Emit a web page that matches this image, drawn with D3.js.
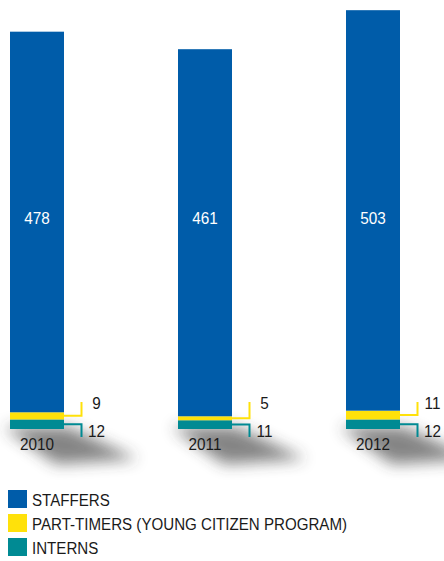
<!DOCTYPE html>
<html>
<head>
<meta charset="utf-8">
<script src="https://cdn.jsdelivr.net/npm/d3@7"></script>
<style>
  html, body { margin: 0; padding: 0; background: #fff; }
  svg { display: block; }
  text { font-family: "Liberation Sans", Arial, sans-serif; fill: #1a1a1a; }
</style>
</head>
<body>
<svg id="chart" width="444" height="561"></svg>
<script>
// Headcount by year, stacked bottom to top: interns, part-timers, staffers
const years = ["2010", "2011", "2012"];
const staffers = [478, 461, 503];
const partTimers = [9, 5, 11];
const interns = [12, 11, 12];

const seriesNames = ["INTERNS", "PART-TIMERS (YOUNG CITIZEN PROGRAM)", "STAFFERS"];
const seriesColors = ["#008A93", "#FFE10A", "#005CA9"];
const legendOrder = [2, 1, 0];

const svg = d3.select("#chart");
const base = 429;

const x = d3.scaleBand().domain(years).range([10, 400]).paddingInner(0.6786).paddingOuter(0);
const y = d3.scaleLinear().domain([0, 530]).range([base, 7]);

const rows = years.map((yr, i) => ({ year: yr, interns: interns[i], partTimers: partTimers[i], staffers: staffers[i] }));
const stack = d3.stack().keys(["interns", "partTimers", "staffers"]);
const layers = stack(rows);

// soft cast shadow beneath each bar's base
const defs = svg.append("defs");
defs.append("filter").attr("id", "blur").attr("x", "-50%").attr("y", "-100%").attr("width", "200%").attr("height", "300%")
  .append("feGaussianBlur").attr("stdDeviation", 7.5);

svg.append("g").selectAll("polygon").data(years).join("polygon")
  .attr("points", d => {
    const x0 = x(d), x1 = x(d) + x.bandwidth();
    return [[x0 - 6, base - 2], [x1 + 4, base - 2], [x1 + 74, base + 30], [x0 + 46, base + 35]].map(p => p.join(",")).join(" ");
  })
  .attr("fill", "#333")
  .attr("opacity", 0.6)
  .attr("filter", "url(#blur)");

// stacked bars
svg.append("g").selectAll("g").data(layers).join("g")
  .attr("fill", (d, i) => seriesColors[i])
  .selectAll("rect").data(d => d).join("rect")
  .attr("x", d => x(d.data.year))
  .attr("width", x.bandwidth())
  .attr("y", d => y(d[1]))
  .attr("height", d => y(d[0]) - y(d[1]));

// condensed text helper
function label(g, tx, ty, str, opts) {
  const o = Object.assign({ size: 17, sx: 0.9, anchor: "middle", fill: "#1a1a1a" }, opts || {});
  g.append("text")
    .attr("transform", `translate(${tx},${ty}) scale(${o.sx},1)`)
    .attr("text-anchor", o.anchor)
    .style("font-size", o.size + "px")
    .style("fill", o.fill)
    .text(str);
}

const txt = svg.append("g");

// staffer totals inside the bars
rows.forEach(r => {
  label(txt, x(r.year) + x.bandwidth() / 2, 224, r.staffers, { fill: "#ffffff" });
});

// year labels
rows.forEach(r => {
  label(txt, x(r.year) + x.bandwidth() / 2, 450, r.year);
});

// bracket callouts for part-timers and interns
const brackets = svg.append("g").attr("fill", "none").attr("stroke-width", 2);
rows.forEach((r, i) => {
  const xr = x(r.year) + x.bandwidth();
  const vx = xr + 17.5;
  const yMidP = y(layers[1][i][0] + (layers[1][i][1] - layers[1][i][0]) / 2);
  const yMidI = y(layers[0][i][0] + (layers[0][i][1] - layers[0][i][0]) / 2);
  const topP = base - 27;
  const botI = base + 8;
  brackets.append("path")
    .attr("d", `M${xr},${yMidP}H${vx}V${topP}`)
    .attr("stroke", seriesColors[1]);
  brackets.append("path")
    .attr("d", `M${xr},${yMidI}H${vx}V${botI}`)
    .attr("stroke", seriesColors[0]);
  label(txt, vx + 15, base - 20, r.partTimers);
  label(txt, vx + 15, base + 8, r.interns);
});

// legend
const legend = svg.append("g");
legendOrder.forEach((k, j) => {
  const ly = 490 + j * 24;
  legend.append("rect")
    .attr("x", 8).attr("y", ly).attr("width", 19).attr("height", 18)
    .attr("fill", seriesColors[k]);
  label(legend, 32, ly + 16, seriesNames[k], { anchor: "start", sx: 0.9, size: 16.8 });
});
</script>
</body>
</html>
